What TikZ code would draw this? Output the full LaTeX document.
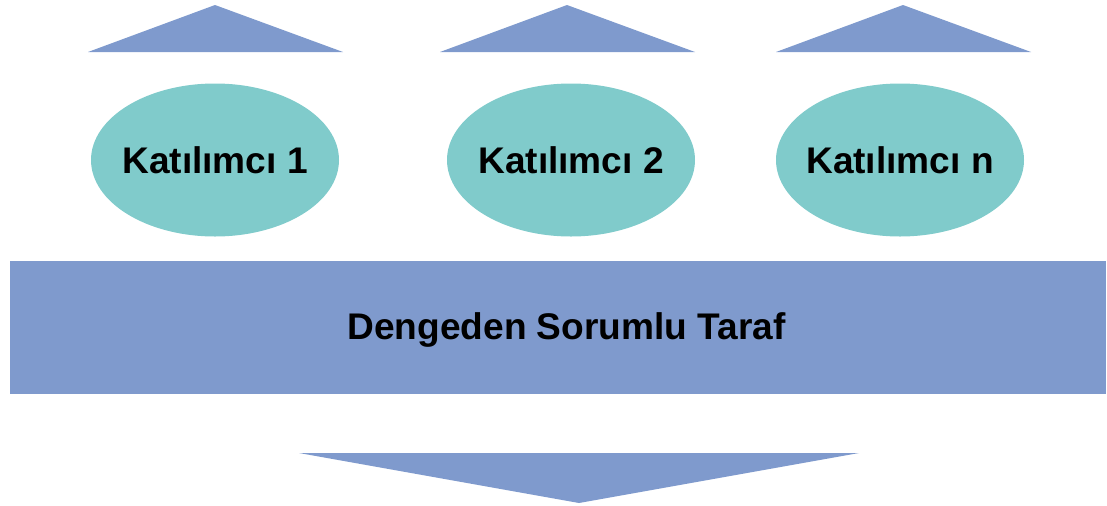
\documentclass[tikz,border=0pt]{standalone}
\usepackage{fontspec}
\setmainfont{Liberation Sans}
\usetikzlibrary{shapes.geometric}
\definecolor{flowblue}{HTML}{7F9ACD}
\definecolor{partgreen}{HTML}{80CBCB}
\tikzset{
  bigbold/.style={font=\fontsize{21.1}{25}\selectfont\bfseries},
  participant/.style={ellipse,fill=partgreen,minimum width=4.96cm,minimum height=3.06cm,inner sep=0pt,label={[bigbold]center:#1}},
  arrowhead/.style={fill=flowblue}
}
\begin{document}
\begin{tikzpicture}
  \useasboundingbox (0,0) rectangle (22.14,-10.1);
  % upward heads over the participants
  \fill [arrowhead] (1.76,-1.04) -- (4.3,-0.1) -- (6.86,-1.04) -- cycle;
  \fill [arrowhead] (8.8,-1.04) -- (11.34,-0.1) -- (13.9,-1.04) -- cycle;
  \fill [arrowhead] (15.52,-1.04) -- (18.06,-0.1) -- (20.62,-1.04) -- cycle;
  \node [participant={Katılımcı 1}] (p1) at (4.3,-3.2) {};
  \node [participant={Katılımcı 2}] (p2) at (11.42,-3.2) {};
  \node [participant={Katılımcı n}] (pn) at (18.0,-3.2) {};
  \fill [flowblue] (0.2,-5.22) rectangle (22.12,-7.88);
  \node [bigbold] (brp) at (11.33,-6.6) {Dengeden Sorumlu Taraf};
  % downward head
  \fill [arrowhead] (5.98,-9.06) -- (17.18,-9.06) -- (11.58,-10.06) -- cycle;
\end{tikzpicture}
\end{document}
